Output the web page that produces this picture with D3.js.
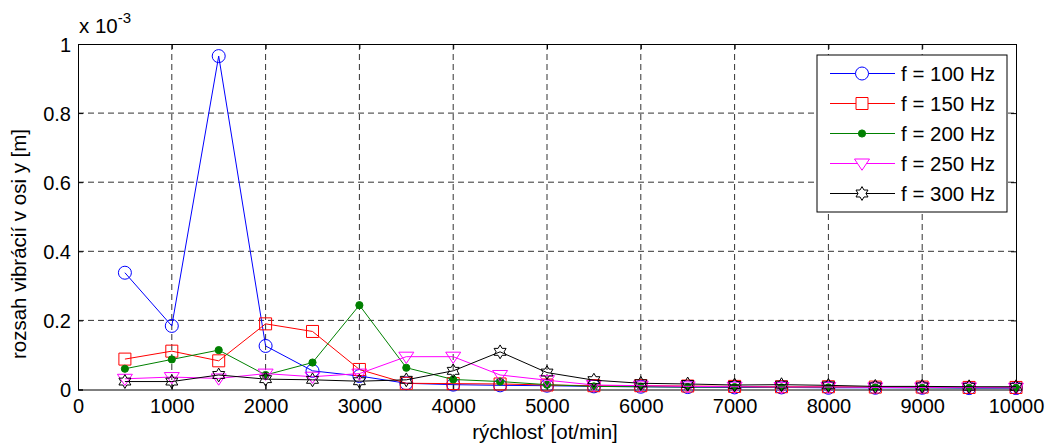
<!DOCTYPE html>
<html>
<head>
<meta charset="utf-8">
<script src="https://cdn.jsdelivr.net/npm/d3@7"></script>
<style>
body { margin: 0; background: #fff; }
text { font-family: "Liberation Sans", Arial, sans-serif; }
</style>
</head>
<body>
<script>
// data (values in units of 1e-3 m)
let speeds = [500, 1000, 1500, 2000, 2500, 3000, 3500, 4000, 4500, 5000, 5500, 6000, 6500, 7000, 7500, 8000, 8500, 9000, 9500, 10000];
let f100 = [0.338, 0.184, 0.965, 0.126, 0.054, 0.039, 0.018, 0.014, 0.012, 0.011, 0.009, 0.008, 0.007, 0.006, 0.006, 0.005, 0.005, 0.005, 0.004, 0.004];
let f150 = [0.088, 0.111, 0.083, 0.19, 0.168, 0.058, 0.018, 0.017, 0.016, 0.013, 0.011, 0.011, 0.01, 0.009, 0.008, 0.008, 0.007, 0.007, 0.006, 0.006];
let f200 = [0.06, 0.087, 0.114, 0.042, 0.078, 0.244, 0.063, 0.029, 0.023, 0.014, 0.009, 0.008, 0.007, 0.007, 0.006, 0.006, 0.006, 0.005, 0.005, 0.005];
let f250 = [0.031, 0.036, 0.032, 0.046, 0.037, 0.046, 0.095, 0.095, 0.042, 0.027, 0.013, 0.011, 0.009, 0.008, 0.007, 0.007, 0.006, 0.006, 0.006, 0.005];
let f300 = [0.023, 0.023, 0.042, 0.03, 0.028, 0.024, 0.028, 0.054, 0.109, 0.049, 0.027, 0.018, 0.016, 0.013, 0.014, 0.012, 0.009, 0.009, 0.008, 0.008];
let seriesNames = ["f = 100 Hz", "f = 150 Hz", "f = 200 Hz", "f = 250 Hz", "f = 300 Hz"];
let seriesColors = ["#0000ff", "#ff0000", "#008000", "#ff00ff", "#000000"];
let seriesMarkers = ["circle", "square", "dot", "triangle", "hexagram"];
let xTicks = d3.range(0, 10001, 1000);
let yTicks = [0, 0.2, 0.4, 0.6, 0.8, 1];

let svg = d3.select("body").append("svg")
	.attr("width", 1050)
	.attr("height", 448);

let margin = { top: 44, right: 34, bottom: 58.5, left: 78 };
let innerWidth = 1050 - margin.left - margin.right;
let innerHeight = 448 - margin.top - margin.bottom;

let scaleX = d3.scaleLinear().domain([0, 10000]).range([0, innerWidth]);
let scaleY = d3.scaleLinear().domain([0, 1]).range([innerHeight, 0]);

let g = svg.append("g")
	.attr("transform", `translate(${margin.left}, ${margin.top})`);

// dashed grid
g.append("g").selectAll("line").data(xTicks.slice(1, -1)).join("line")
	.attr("x1", d => scaleX(d)).attr("x2", d => scaleX(d))
	.attr("y1", 0).attr("y2", innerHeight)
	.attr("stroke", "#333").attr("stroke-dasharray", "6,4");
g.append("g").selectAll("line").data(yTicks.slice(1, -1)).join("line")
	.attr("x1", 0).attr("x2", innerWidth)
	.attr("y1", d => scaleY(d)).attr("y2", d => scaleY(d))
	.attr("stroke", "#333").attr("stroke-dasharray", "6,4");

// axes, ticks pointing inward
let xAxis = d3.axisBottom(scaleX).tickValues(xTicks).tickSize(-5).tickPadding(9).tickFormat(d3.format("d"));
let yAxis = d3.axisLeft(scaleY).tickValues(yTicks).tickSize(-5).tickPadding(7).tickFormat(d => d3.format("")(d));
let xTop = d3.axisTop(scaleX).tickValues(xTicks).tickSize(-5);
let yRight = d3.axisRight(scaleY).tickValues(yTicks).tickSize(-5);

let xG = g.append("g").attr("transform", `translate(0, ${innerHeight})`).call(xAxis)
	.attr("font-size", 20).attr("font-family", "'Liberation Sans', Arial, sans-serif");
let yG = g.append("g").call(yAxis)
	.attr("font-size", 20).attr("font-family", "'Liberation Sans', Arial, sans-serif");
g.append("g").call(xTop).selectAll("text").remove();
g.append("g").attr("transform", `translate(${innerWidth}, 0)`).call(yRight).selectAll("text").remove();
g.selectAll(".domain").attr("stroke", "#000");
g.selectAll(".tick line").attr("stroke", "#000");
g.selectAll(".tick text").attr("fill", "#000");
yG.selectAll(".tick text").attr("dy", "0.36em");

// labels
svg.append("text")
	.attr("x", margin.left + innerWidth / 2 - 2)
	.attr("y", 439)
	.attr("text-anchor", "middle")
	.attr("font-size", 20.5)
	.text("rýchlosť [ot/min]");

svg.append("text")
	.attr("transform", "translate(26, 244) rotate(-90)")
	.attr("text-anchor", "middle")
	.attr("font-size", 20.5)
	.text("rozsah vibrácií v osi y [m]");

let expo = svg.append("text")
	.attr("x", 79)
	.attr("y", 33)
	.attr("font-size", 20.5);
expo.append("tspan").text("x 10");
expo.append("tspan").attr("dy", -10).attr("font-size", 15).text("-3");

// markers
let hexagram = {
	draw(ctx, size) {
		let r = Math.sqrt(size) * 0.75;
		let ri = r / Math.sqrt(3);
		for (let i = 0; i < 12; i++) {
			let a = -Math.PI / 2 + i * Math.PI / 6;
			let rr = i % 2 === 0 ? r : ri;
			let px = rr * Math.cos(a), py = rr * Math.sin(a);
			if (i === 0) ctx.moveTo(px, py); else ctx.lineTo(px, py);
		}
		ctx.closePath();
	}
};
let triDown = {
	draw(ctx, size) {
		let r = Math.sqrt(size) * 0.75;
		ctx.moveTo(-r, -r * 0.6);
		ctx.lineTo(r, -r * 0.6);
		ctx.lineTo(0, r * 0.9);
		ctx.closePath();
	}
};
function marker(type) {
	if (type === "circle") return d3.symbol(d3.symbolCircle, Math.PI * 6.5 * 6.5)();
	if (type === "square") return d3.symbol(d3.symbolSquare, 12 * 12)();
	if (type === "dot") return d3.symbol(d3.symbolCircle, Math.PI * 3.6 * 3.6)();
	if (type === "triangle") return d3.symbol(triDown, 100)();
	return d3.symbol(hexagram, 85)();
}

let allSeries = [f100, f150, f200, f250, f300];
let line = d3.line()
	.x((d, i) => scaleX(speeds[i]))
	.y(d => scaleY(d));

allSeries.forEach((vals, k) => {
	let col = seriesColors[k];
	g.append("path")
		.datum(vals)
		.attr("fill", "none")
		.attr("stroke", col)
		.attr("stroke-width", 1)
		.attr("d", line);
	g.append("g").selectAll("path").data(vals).join("path")
		.attr("transform", (d, i) => `translate(${scaleX(speeds[i])}, ${scaleY(d)})`)
		.attr("d", marker(seriesMarkers[k]))
		.attr("fill", seriesMarkers[k] === "dot" ? col : "none")
		.attr("stroke", col)
		.attr("stroke-width", 1);
});

// legend
let legend = svg.append("g").attr("transform", "translate(817, 55)");
legend.append("rect")
	.attr("width", 190).attr("height", 157)
	.attr("fill", "#fff").attr("stroke", "#000");
seriesNames.forEach((name, k) => {
	let yy = 18.5 + k * 30;
	let col = seriesColors[k];
	legend.append("line")
		.attr("x1", 13).attr("x2", 78).attr("y1", yy).attr("y2", yy)
		.attr("stroke", col);
	legend.append("path")
		.attr("transform", `translate(45, ${yy})`)
		.attr("d", marker(seriesMarkers[k]))
		.attr("fill", seriesMarkers[k] === "dot" ? col : "#fff")
		.attr("stroke", col);
	legend.append("text")
		.attr("x", 84).attr("y", yy)
		.attr("dy", "0.36em")
		.attr("font-size", 20.5)
		.text(name);
});
</script>
</body>
</html>
